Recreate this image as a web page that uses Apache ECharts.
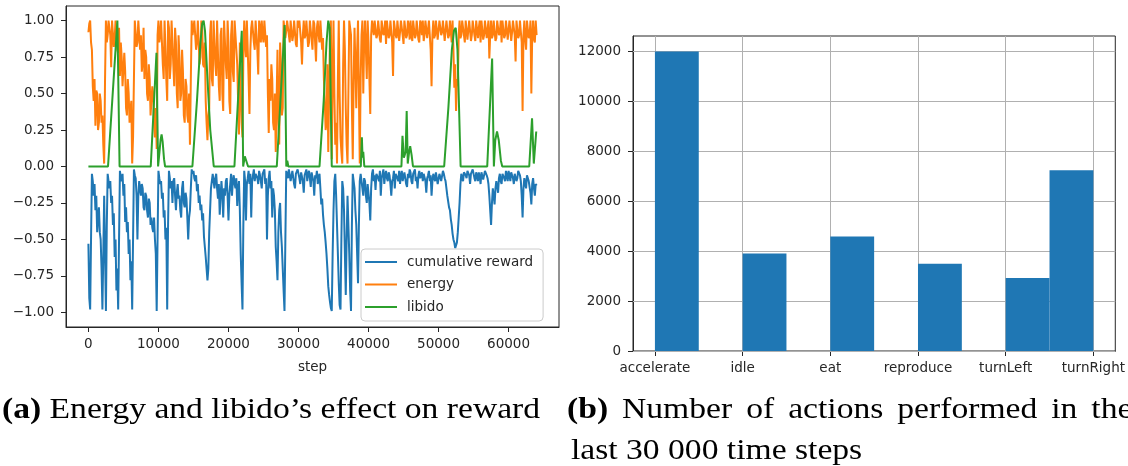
<!DOCTYPE html>
<html>
<head>
<meta charset="utf-8">
<script src="https://cdn.jsdelivr.net/npm/echarts@6/dist/echarts.min.js"></script>
<style>
  html, body { margin: 0; padding: 0; background: #fff; }
  #chart { width: 1128px; height: 466px; }
</style>
</head>
<body>
<div id="chart"></div>
<script>
// Sampling interval (in steps) of the energy and reward traces
const stepSize = 125;

// Energy level, one value every 125 steps (one row = 1000 steps)
const energy = [
  0.92, 0.98, 1.0, 0.85, 0.8, 0.55, 0.45, 0.6,
  0.28, 0.52, 0.5, 0.25, 0.3, 0.5, 0.45, 0.3,
  0.35, 0.15, 0.02, 0.6, 1.0, 0.85, 0.9, 1.0,
  1.0, 0.9, 0.68, 1.0, 1.0, 0.82, 0.88, 1.0,
  1.0, 0.8, 0.78, 0.95, 0.62, 0.85, 0.75, 0.55,
  0.55, 0.78, 0.65, 0.4, 0.35, 0.6, 0.5, 0.3,
  0.3, 0.45, 0.02, 0.2, 0.6, 1.0, 1.0, 0.82,
  0.85, 1.0, 1.0, 0.8, 0.9, 0.65, 0.72, 0.95,
  0.6, 0.8, 0.75, 0.5, 0.45, 0.7, 0.6, 0.35,
  0.35, 0.55, 0.5, 0.3, 0.2, 0.4, 0.12, 0.9,
  1.0, 0.85, 0.9, 1.0, 1.0, 0.7, 0.6, 1.0,
  1.0, 0.6, 0.45, 1.0, 0.95, 0.6, 0.7, 1.0,
  1.0, 0.7, 0.55, 0.95, 0.85, 0.5, 0.4, 0.9,
  0.75, 0.45, 0.5, 0.8, 0.65, 0.35, 0.3, 0.6,
  0.55, 0.35, 0.3, 0.5, 0.15, 0.6, 1.0, 0.9,
  0.9, 1.0, 1.0, 0.8, 0.85, 1.0, 1.0, 0.7,
  0.75, 1.0, 0.95, 0.7, 0.68, 0.85, 0.45, 0.3,
  0.18, 0.35, 0.4, 0.9, 1.0, 0.6, 0.55, 1.0,
  1.0, 0.7, 0.62, 1.0, 1.0, 0.55, 0.45, 0.9,
  0.95, 0.5, 0.38, 1.0, 1.0, 0.7, 0.6, 1.0,
  0.85, 0.45, 0.36, 0.9, 1.0, 0.65, 0.58, 1.0,
  1.0, 0.8, 0.7, 0.45, 0.22, 0.85, 0.5, 0.3,
  0.2, 0.75, 1.0, 0.85, 0.75, 1.0, 1.0, 0.6,
  0.36, 0.8, 0.95, 1.0, 1.0, 0.85, 0.8, 1.0,
  1.0, 0.8, 0.63, 1.0, 0.95, 0.85, 1.0, 0.9,
  0.85, 1.0, 1.0, 0.82, 0.9, 0.5, 0.23, 0.6,
  0.45, 0.7, 0.6, 0.3, 0.25, 0.5, 0.1, 0.45,
  0.8, 0.3, 0.15, 0.85, 0.7, 0.35, 0.4, 1.0,
  1.0, 0.88, 0.93, 1.0, 1.0, 0.9, 0.85, 1.0,
  1.0, 0.86, 0.9, 1.0, 1.0, 0.84, 0.82, 1.0,
  0.95, 1.0, 1.0, 0.85, 0.7, 0.9, 1.0, 0.88,
  0.9, 1.0, 1.0, 0.82, 0.85, 1.0, 1.0, 0.87,
  0.8, 1.0, 0.98, 0.85, 0.72, 0.95, 1.0, 0.9,
  0.85, 1.0, 1.0, 0.8, 0.88, 0.6, 0.45, 0.25,
  0.3, 0.7, 0.1, 0.5, 0.9, 1.0, 0.05, 0.6,
  1.0, 0.5, 0.15, 0.3, 0.02, 0.6, 1.0, 0.5,
  0.2, 0.1, 0.02, 0.7, 1.0, 0.8, 0.4, 0.15,
  0.02, 0.5, 1.0, 1.0, 0.9, 0.4, 0.05, 0.6,
  0.95, 0.7, 0.4, 0.8, 1.0, 0.5, 0.02, 0.6,
  0.9, 1.0, 0.5, 0.85, 1.0, 0.8, 0.6, 1.0,
  0.85, 0.6, 0.36, 0.9, 1.0, 1.0, 0.9, 1.0,
  1.0, 0.88, 0.9, 1.0, 1.0, 0.87, 0.85, 1.0,
  1.0, 0.9, 0.92, 1.0, 0.84, 1.0, 1.0, 0.88,
  0.9, 1.0, 1.0, 0.85, 0.62, 1.0, 1.0, 0.9,
  0.88, 1.0, 1.0, 0.86, 0.92, 1.0, 1.0, 0.9,
  0.84, 1.0, 1.0, 0.88, 0.9, 1.0, 0.96, 0.87,
  1.0, 0.9, 0.86, 1.0, 1.0, 0.88, 0.9, 1.0,
  1.0, 0.87, 0.85, 1.0, 0.98, 0.9, 1.0, 0.86,
  0.9, 1.0, 1.0, 0.88, 0.87, 1.0, 1.0, 0.8,
  0.55, 0.9, 1.0, 0.88, 0.9, 1.0, 1.0, 0.87,
  0.88, 1.0, 1.0, 0.9, 0.92, 1.0, 1.0, 0.86,
  0.86, 1.0, 1.0, 0.88, 0.9, 1.0, 1.0, 0.85,
  1.0, 0.8, 0.54, 0.7, 0.38, 0.6, 0.55, 0.9,
  1.0, 0.88, 0.9, 1.0, 1.0, 0.9, 0.85, 1.0,
  1.0, 0.87, 0.88, 1.0, 1.0, 0.86, 0.9, 1.0,
  1.0, 0.9, 0.86, 1.0, 1.0, 0.88, 0.95, 1.0,
  0.85, 1.0, 1.0, 0.87, 0.9, 1.0, 1.0, 0.88,
  0.87, 1.0, 0.74, 0.9, 1.0, 0.88, 0.9, 1.0,
  1.0, 0.86, 0.88, 1.0, 1.0, 0.9, 0.92, 1.0,
  0.85, 1.0, 1.0, 0.88, 0.9, 1.0, 1.0, 0.87,
  0.88, 1.0, 1.0, 0.86, 0.92, 1.0, 1.0, 0.9,
  0.72, 1.0, 1.0, 0.88, 0.9, 1.0, 1.0, 0.85,
  0.38, 0.9, 1.0, 0.87, 0.8, 1.0, 1.0, 0.88,
  0.9, 1.0, 0.5, 0.9, 1.0, 0.87, 0.85, 1.0,
  0.9
];

// Cumulative reward, same sampling as energy
const reward = [
  -0.53, -0.9, -0.98, -0.5, -0.05, -0.1, -0.2, -0.12,
  -0.3, -0.2, -0.45, -0.35, -0.28, -0.45, -0.5, -0.7,
  -0.98, -0.6, -0.2, -0.6, -0.99, -0.4, -0.05, -0.1,
  -0.15, -0.1, -0.25, -0.2, -0.4, -0.32, -0.62, -0.5,
  -0.85, -0.7, -0.98, -0.5, -0.03, -0.08, -0.1, -0.05,
  -0.2, -0.12, -0.38, -0.28, -0.45, -0.38, -0.6, -0.5,
  -0.78, -0.65, -0.98, -0.5, -0.02, -0.06, -0.08, -0.2,
  -0.5, -0.2, -0.1, -0.15, -0.2, -0.12, -0.15, -0.28,
  -0.3, -0.18, -0.2, -0.3, -0.35, -0.22, -0.25, -0.4,
  -0.35, -0.42, -0.45, -0.35, -0.5, -0.6, -0.99, -0.5,
  -0.03, -0.08, -0.12, -0.1, -0.22, -0.18, -0.35, -0.3,
  -0.5, -0.42, -0.98, -0.4, -0.03, -0.08, -0.15, -0.1,
  -0.25, -0.1, -0.08, -0.2, -0.3, -0.18, -0.12, -0.22,
  -0.2, -0.3, -0.35, -0.15, -0.1, -0.25, -0.28, -0.18,
  -0.22, -0.35, -0.5, -0.35, -0.3, -0.15, -0.02, -0.05,
  -0.03, -0.08, -0.1, -0.06, -0.17, -0.12, -0.25, -0.2,
  -0.3, -0.26, -0.37, -0.32, -0.48, -0.55, -0.62, -0.7,
  -0.78, -0.7, -0.45, -0.3, -0.15, -0.1, -0.05, -0.1,
  -0.15, -0.08, -0.05, -0.15, -0.22, -0.12, -0.33, -0.2,
  -0.1, -0.2, -0.35, -0.15, -0.2, -0.1, -0.08, -0.2,
  -0.37, -0.2, -0.12, -0.05, -0.2, -0.1, -0.06, -0.12,
  -0.15, -0.08, -0.27, -0.15, -0.1, -0.3, -0.6, -0.8,
  -0.98, -0.4, -0.03, -0.1, -0.37, -0.12, -0.08, -0.03,
  -0.12, -0.05, -0.35, -0.1, -0.06, -0.02, -0.1, -0.05,
  -0.04, -0.08, -0.12, -0.03, -0.06, -0.1, -0.15, -0.05,
  -0.05, -0.02, -0.12, -0.08, -0.5, -0.2, -0.08, -0.03,
  -0.15, -0.1, -0.35, -0.15, -0.2, -0.3, -0.55, -0.65,
  -0.78, -0.45, -0.3, -0.25, -0.45, -0.55, -0.7, -0.85,
  -0.99, -0.5, -0.03, -0.06, -0.08, -0.02, -0.02, -0.1,
  -0.1, -0.03, -0.04, -0.12, -0.15, -0.05, -0.06, -0.02,
  -0.02, -0.08, -0.12, -0.04, -0.05, -0.1, -0.18, -0.06,
  -0.06, -0.02, -0.1, -0.05, -0.03, -0.08, -0.14, -0.04,
  -0.05, -0.1, -0.2, -0.06, -0.08, -0.03, -0.12, -0.07,
  -0.05, -0.15, -0.26, -0.22, -0.33, -0.4, -0.45, -0.52,
  -0.6, -0.7, -0.82, -0.88, -0.93, -0.97, -0.99, -0.6,
  -0.3, -0.1, -0.05, -0.2, -0.4, -0.6, -0.8, -0.95,
  -0.98, -0.5, -0.1, -0.15, -0.3, -0.6, -0.88, -0.5,
  -0.2, -0.4, -0.6, -0.85, -0.99, -0.4, -0.05, -0.1,
  -0.15, -0.3, -0.4, -0.6, -0.8, -0.4, -0.1, -0.05,
  -0.05, -0.15, -0.2, -0.08, -0.1, -0.2, -0.25, -0.12,
  -0.12, -0.25, -0.37, -0.15, -0.05, -0.02, -0.1, -0.06,
  -0.16, -0.05, -0.04, -0.08, -0.1, -0.03, -0.2, -0.08,
  -0.05, -0.02, -0.12, -0.06, -0.03, -0.08, -0.1, -0.04,
  -0.06, -0.12, -0.2, -0.1, -0.08, -0.03, -0.15, -0.05,
  -0.04, -0.08, -0.1, -0.03, -0.12, -0.06, -0.03, -0.1,
  -0.1, -0.04, -0.05, -0.12, -0.14, -0.05, -0.08, -0.02,
  -0.04, -0.1, -0.12, -0.05, -0.06, -0.02, -0.1, -0.07,
  -0.15, -0.06, -0.03, -0.08, -0.08, -0.04, -0.1, -0.05,
  -0.05, -0.1, -0.18, -0.08, -0.06, -0.03, -0.1, -0.06,
  -0.2, -0.1, -0.05, -0.08, -0.1, -0.04, -0.04, -0.12,
  -0.12, -0.05, -0.06, -0.1, -0.1, -0.03, -0.05, -0.08,
  -0.1, -0.15, -0.2, -0.24, -0.28, -0.3, -0.36, -0.4,
  -0.46, -0.5, -0.52, -0.56, -0.57, -0.52, -0.45, -0.35,
  -0.25, -0.12, -0.05, -0.08, -0.1, -0.04, -0.03, -0.06,
  -0.08, -0.03, -0.02, -0.06, -0.12, -0.05, -0.05, -0.02,
  -0.03, -0.08, -0.1, -0.04, -0.06, -0.1, -0.04, -0.07,
  -0.12, -0.04, -0.05, -0.09, -0.08, -0.03, -0.03, -0.06,
  -0.08, -0.12, -0.2, -0.3, -0.4, -0.25, -0.15, -0.2,
  -0.26, -0.15, -0.1, -0.14, -0.18, -0.08, -0.05, -0.1,
  -0.12, -0.05, -0.04, -0.08, -0.1, -0.03, -0.06, -0.1,
  -0.03, -0.06, -0.1, -0.04, -0.05, -0.08, -0.12, -0.05,
  -0.04, -0.1, -0.08, -0.03, -0.02, -0.06, -0.1, -0.2,
  -0.35, -0.15, -0.08, -0.12, -0.15, -0.06, -0.05, -0.1,
  -0.1, -0.18, -0.26, -0.12, -0.08, -0.15, -0.2, -0.12,
  -0.13
];

// Libido as [step, value] break points
const libido = [
  [0, 0], [2800, 0], [4140, 1.0], [4450, 0],
  [8900, 0], [9720, 0.78], [9950, 0], [10150, 0.1], [10300, 0.18], [10450, 0.22], [10600, 0.17], [10800, 0.05], [10950, 0],
  [14850, 0], [15500, 0.45], [16000, 0.85], [16250, 0.98], [16450, 1.0], [16650, 0.93], [17000, 0.6], [17400, 0.25], [17900, 0],
  [20850, 0], [21900, 0.93], [22100, 0], [22330, 0.07], [22800, 0],
  [26900, 0], [28020, 0.97], [28260, 0], [28400, 0.04], [28550, 0],
  [33000, 0], [33600, 0.45], [34000, 0.85], [34250, 1.0], [34450, 0.95], [34750, 0],
  [38900, 0], [39050, 0.2], [39150, 0.06], [39250, 0.1], [39400, 0],
  [44700, 0], [44850, 0.21], [45050, 0.06], [45300, 0.1], [45450, 0.38], [45600, 0.02], [45800, 0.1], [45950, 0.14], [46150, 0.08], [46350, 0],
  [50800, 0], [51400, 0.4], [51900, 0.8], [52200, 0.93], [52450, 0.95], [52700, 0.8], [52900, 0.45], [53150, 0],
  [56950, 0], [57650, 0.74], [57900, 0], [58100, 0.18], [58350, 0.24], [58600, 0.18], [58900, 0.04], [59100, 0],
  [62950, 0], [63350, 0.33], [63600, 0.02], [63950, 0.24]
];

// Action histogram: category names, counts and bin edges on the category index axis
const actions = ['accelerate', 'idle', 'eat', 'reproduce', 'turnLeft', 'turnRight'];
const actionCounts = [11980, 3900, 4580, 3490, 2920, 7230];
const binStart = [0, 1, 2, 3, 4, 4.5];
const binEnd = [0.5, 1.5, 2.5, 3.5, 4.5, 5];

// Tick positions
const stepTicks = [0, 10000, 20000, 30000, 40000, 50000, 60000];
const levelTicks = [-1, -0.75, -0.5, -0.25, 0, 0.25, 0.5, 0.75, 1];
const actionTicks = [0, 1, 2, 3, 4, 5];
const countTicks = [0, 2000, 4000, 6000, 8000, 10000, 12000];

const ink = '#262626';
const tickFont = { fontFamily: 'DejaVu Sans', fontSize: 13.5, color: ink };
const spine = { show: true, onZero: false, lineStyle: { color: ink, width: 1 } };
const captionFont = '30px "Liberation Serif"';
const boldRich = { b: { fontWeight: 'bold', fontSize: 30, fontFamily: 'Liberation Serif' } };
const traceWidth = 2;

const sampled = arr => arr.map((v, i) => [i * stepSize, v]);

const chart = echarts.init(document.getElementById('chart'), null, { renderer: 'canvas' });

chart.setOption({
  animation: false,
  backgroundColor: '#ffffff',
  textStyle: { fontFamily: 'DejaVu Sans' },
  grid: [
    { left: 66, top: 6, width: 493, height: 321, show: true, borderColor: ink, borderWidth: 1, backgroundColor: 'transparent' },
    { left: 633, top: 36, width: 483, height: 315, show: true, borderColor: ink, borderWidth: 1, backgroundColor: 'transparent' }
  ],
  xAxis: [
    {
      gridIndex: 0, type: 'value', min: -3200, max: 67200,
      name: 'step', nameLocation: 'middle', nameGap: 33, nameTextStyle: tickFont,
      axisLine: spine,
      axisTick: { show: true, customValues: stepTicks, length: 5, lineStyle: { color: ink } },
      axisLabel: { customValues: stepTicks, margin: 10, formatter: v => String(v), ...tickFont },
      splitLine: { show: false }
    },
    {
      gridIndex: 1, type: 'value', min: -0.25, max: 5.25,
      axisLine: spine,
      axisTick: { show: true, customValues: actionTicks, length: 5, lineStyle: { color: ink } },
      axisLabel: { customValues: actionTicks, margin: 10, formatter: v => actions[Math.round(v)], ...tickFont },
      splitLine: { show: false }
    }
  ],
  yAxis: [
    {
      gridIndex: 0, type: 'value', min: -1.1, max: 1.1,
      axisLine: spine,
      axisTick: { show: true, customValues: levelTicks, length: 5, lineStyle: { color: ink } },
      axisLabel: {
        customValues: levelTicks, margin: 12,
        formatter: v => (v < 0 ? '\u2212' : '') + Math.abs(v).toFixed(2), ...tickFont
      },
      splitLine: { show: false }
    },
    {
      gridIndex: 1, type: 'value', min: 0, max: 12600,
      axisLine: spine,
      axisTick: { show: true, customValues: countTicks, length: 5, lineStyle: { color: ink } },
      axisLabel: { customValues: countTicks, margin: 12, formatter: v => String(v), ...tickFont },
      splitLine: { show: false }
    }
  ],
  legend: {
    data: ['cumulative reward', 'energy', 'libido'],
    orient: 'vertical', left: 361, top: 249,
    icon: 'rect', itemWidth: 32, itemHeight: 2, itemGap: 6.5,
    padding: [5, 10, 6, 4],
    backgroundColor: 'rgba(255,255,255,0.8)',
    borderColor: '#cccccc', borderWidth: 1, borderRadius: 4,
    textStyle: { ...tickFont, lineHeight: 16, padding: [0, 0, 0, 5] }
  },
  series: [
    {
      name: 'cumulative reward', type: 'line', xAxisIndex: 0, yAxisIndex: 0,
      data: sampled(reward), showSymbol: false, symbol: 'none',
      lineStyle: { color: '#1f77b4', width: traceWidth }, itemStyle: { color: '#1f77b4' }, z: 2
    },
    {
      name: 'energy', type: 'line', xAxisIndex: 0, yAxisIndex: 0,
      data: sampled(energy), showSymbol: false, symbol: 'none',
      lineStyle: { color: '#ff7f0e', width: traceWidth }, itemStyle: { color: '#ff7f0e' }, z: 3
    },
    {
      name: 'libido', type: 'line', xAxisIndex: 0, yAxisIndex: 0,
      data: libido, showSymbol: false, symbol: 'none',
      lineStyle: { color: '#2ca02c', width: traceWidth }, itemStyle: { color: '#2ca02c' }, z: 4
    },
    {
      // grid lines of the histogram, kept beneath the bars
      name: 'grid', type: 'line', xAxisIndex: 1, yAxisIndex: 1, data: [], z: 1,
      markLine: {
        silent: true, symbol: ['none', 'none'], animation: false, z: 1,
        label: { show: false },
        lineStyle: { color: '#b0b0b0', width: 1, type: 'solid' },
        data: actionTicks.map(v => ({ xAxis: v })).concat(countTicks.map(v => ({ yAxis: v })))
      }
    },
    {
      name: 'actions', type: 'custom', xAxisIndex: 1, yAxisIndex: 1,
      data: actions.map((a, i) => [binStart[i], binEnd[i], actionCounts[i]]),
      renderItem: (params, api) => {
        const p0 = api.coord([api.value(0), 0]);
        const p1 = api.coord([api.value(1), api.value(2)]);
        return {
          type: 'rect',
          shape: { x: p0[0], y: p1[1], width: p1[0] - p0[0], height: p0[1] - p1[1] },
          style: { fill: '#1f77b4' }
        };
      },
      z: 6
    }
  ],
  graphic: [
    {
      type: 'text', x: 2, y: 410, scaleX: 1.12,
      style: {
        text: '{b|(a)} Energy and libido\u2019s effect on reward',
        font: captionFont, fill: '#000', textVerticalAlign: 'middle', rich: boldRich
      }
    },
    {
      type: 'text', x: 567, y: 410, scaleX: 1.12,
      style: {
        text: '{b|(b)} \u2006Number \u2006of \u2006actions \u2006performed \u2006in \u2006the',
        font: captionFont, fill: '#000', textVerticalAlign: 'middle', rich: boldRich
      }
    },
    {
      type: 'text', x: 571, y: 451, scaleX: 1.12,
      style: {
        text: 'last 30 000 time steps',
        font: captionFont, fill: '#000', textVerticalAlign: 'middle'
      }
    }
  ]
});
</script>
</body>
</html>
